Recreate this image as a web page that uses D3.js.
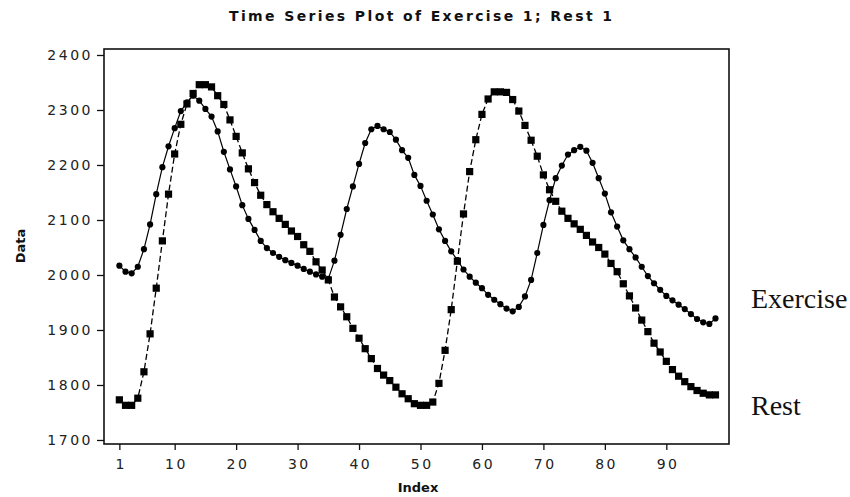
<!DOCTYPE html>
<html><head><meta charset="utf-8">
<script src="https://cdn.jsdelivr.net/npm/d3@7"></script>
<style>body{margin:0;background:#fff} svg{display:block}</style>
</head><body><svg id="c" width="850" height="497"></svg>
<script>
const exercise = [2017,2006,2003,2015,2047,2092,2147,2196,2234,2267,
  2298,2314,2326,2317,2302,2288,2261,2224,2192,2161,
  2127,2102,2082,2062,2049,2040,2033,2027,2022,2017,
  2011,2006,2001,1997,1993,2026,2073,2120,2161,2202,
  2240,2265,2271,2265,2260,2246,2227,2213,2182,2162,
  2135,2110,2083,2062,2043,2027,2010,1997,1986,1976,
  1964,1955,1947,1939,1934,1942,1961,1991,2040,2091,
  2136,2176,2199,2219,2227,2233,2226,2204,2176,2148,
  2114,2088,2063,2047,2032,2015,1998,1985,1973,1962,
  1954,1946,1938,1929,1920,1914,1911,1921];
const rest = [1773,1763,1763,1776,1824,1893,1976,2062,2147,2220,
  2274,2311,2330,2346,2346,2342,2326,2310,2282,2252,
  2222,2193,2168,2145,2128,2115,2103,2092,2080,2070,
  2055,2043,2024,2009,1991,1960,1942,1924,1903,1885,
  1866,1848,1830,1818,1808,1796,1784,1775,1766,1763,
  1763,1769,1803,1863,1937,2025,2111,2188,2246,2292,
  2320,2333,2333,2332,2319,2298,2272,2245,2216,2182,
  2155,2134,2116,2103,2093,2083,2072,2060,2050,2038,
  2021,2006,1984,1962,1940,1918,1897,1876,1860,1843,
  1828,1816,1806,1797,1790,1785,1782,1782];
const xTicks = [1,10,20,30,40,50,60,70,80,90];
const yTicks = [1700,1800,1900,2000,2100,2200,2300,2400];
const seriesNames = ["Exercise","Rest"];
const titleText = "Time Series Plot of Exercise 1; Rest 1";

const svg = d3.select("#c");
svg.append("rect").attr("width",850).attr("height",497).attr("fill","#fff");

const L=104, R=729, T=49, B=444;
const x = d3.scaleLinear().domain([-1.5, 100.2]).range([L, R]);
const y = d3.scaleLinear().domain([1692.7, 2410.9]).range([B, T]);

// axes
const yAxis = svg.append("g").attr("transform",`translate(${L},0)`)
  .call(d3.axisLeft(y).tickValues(yTicks).tickSize(7).tickPadding(4).tickFormat(d3.format("d")));
const xAxis = svg.append("g").attr("transform",`translate(0,${B})`)
  .call(d3.axisBottom(x).tickValues(xTicks).tickSize(6).tickPadding(9).tickFormat(d3.format("d")));
[yAxis,xAxis].forEach(g=>{
  g.select(".domain").remove();
  g.selectAll(".tick line").attr("stroke","#111").attr("stroke-width",1.3);
  g.selectAll(".tick text").attr("fill","#222")
    .style("font-family","DejaVu Sans").style("font-size","14px").style("letter-spacing","2.5px");
});
xAxis.selectAll(".tick text").attr("dx","1.25px");

// frame
svg.append("rect").attr("x",L).attr("y",T).attr("width",R-L).attr("height",B-T)
  .attr("fill","none").attr("stroke","#111").attr("stroke-width",1.6);

const idx = exercise.map((_,i)=>i+1);
const line = d3.line().x((d,i)=>x(idx[i])).y(d=>y(d));

svg.append("path").datum(exercise).attr("d",line)
  .attr("fill","none").attr("stroke","#000").attr("stroke-width",1.2);
svg.append("path").datum(rest).attr("d",line)
  .attr("fill","none").attr("stroke","#000").attr("stroke-width",1.3).attr("stroke-dasharray","6,3");

svg.append("g").selectAll("path").data(exercise).join("path")
  .attr("transform",(d,i)=>`translate(${x(idx[i])},${y(d)})`)
  .attr("d", d3.symbol().type(d3.symbolCircle).size(30))
  .attr("fill","#000");
svg.append("g").selectAll("rect").data(rest).join("rect")
  .attr("x",(d,i)=>x(idx[i])-3.6).attr("y",d=>y(d)-3.6)
  .attr("width",7.2).attr("height",7.2).attr("fill","#000");

// title
svg.append("text").attr("x",229).attr("y",21).text(titleText)
  .attr("textLength",383).attr("lengthAdjust","spacing")
  .style("font-family","DejaVu Sans").style("font-weight","bold").style("font-size","14px").attr("fill","#111");

// axis labels
svg.append("text").attr("transform","translate(25,246) rotate(-90)").attr("text-anchor","middle")
  .text("Data").style("font-family","DejaVu Sans").style("font-weight","bold").style("font-size","13px").attr("fill","#111");
svg.append("text").attr("x",418).attr("y",492).attr("text-anchor","middle")
  .text("Index").style("font-family","DejaVu Sans").style("font-weight","bold").style("font-size","13px").attr("fill","#111");

// series labels
const labY = [308, 415];
seriesNames.forEach((n,i)=>{
  svg.append("text").attr("x",751).attr("y",labY[i]).text(n)
    .style("font-family","Liberation Serif").style("font-size","28px").attr("fill","#111");
});
</script></body></html>
